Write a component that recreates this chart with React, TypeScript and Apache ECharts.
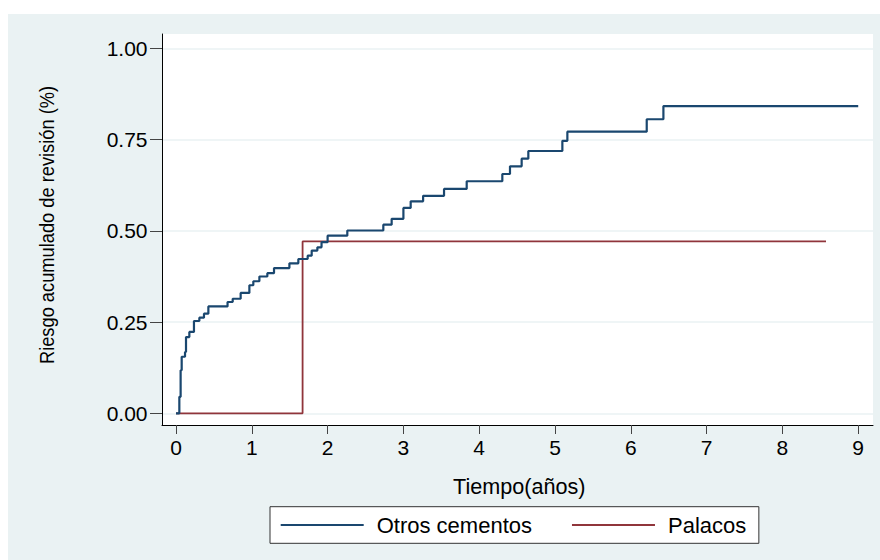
import React, { useEffect, useRef } from "react";
import * as echarts from "echarts";

// Otros cementos: event times (years) and cumulative risk
const otrosTime = [
  0, 0.044, 0.061, 0.075, 0.119, 0.132, 0.176, 0.237, 0.308, 0.369, 0.427,
  0.68, 0.748, 0.853, 0.968, 1.02, 1.1, 1.205, 1.293, 1.496, 1.614, 1.737,
  1.79, 1.865, 1.92, 2.0, 2.26, 2.735, 2.845, 3.0, 3.096, 3.26, 3.536, 3.835,
  4.305, 4.406, 4.56, 4.648, 5.097, 5.163, 6.21, 6.43, 9.0,
];
const otrosRisk = [
  0, 0.045, 0.118, 0.155, 0.168, 0.209, 0.223, 0.253, 0.262, 0.273, 0.293,
  0.305, 0.314, 0.33, 0.351, 0.362, 0.375, 0.384, 0.398, 0.411, 0.423, 0.432,
  0.446, 0.455, 0.469, 0.487, 0.501, 0.517, 0.533, 0.563, 0.581, 0.596, 0.615,
  0.636, 0.656, 0.677, 0.698, 0.719, 0.747, 0.772, 0.806, 0.842, 0.842,
];
// Palacos
const palacosTime = [0, 1.67, 8.575];
const palacosRisk = [0, 0.471, 0.471];

const xTicks = [0, 1, 2, 3, 4, 5, 6, 7, 8, 9];
const yTicks = [0, 0.25, 0.5, 0.75, 1];
const seriesNames = ["Otros cementos", "Palacos"];
const xTitle = "Tiempo(años)";
const yTitle = "Riesgo acumulado de revisión (%)";

const FONT = "'Liberation Sans', Arial, Helvetica, sans-serif";

export default function App() {
  const ref = useRef<HTMLDivElement>(null);
  useEffect(() => {
    if (!ref.current) return;
    const chart = echarts.init(ref.current, undefined, { renderer: "svg" });
    const otros = otrosTime.map((t, i) => [t, otrosRisk[i]]);
    const palacos = palacosTime.map((t, i) => [t, palacosRisk[i]]);
    chart.setOption({
      animation: false,
      backgroundColor: "#EAF2F3",
      textStyle: { fontFamily: FONT },
      grid: {
        left: 154,
        top: 20,
        width: 711,
        height: 391,
        show: true,
        backgroundColor: "#ffffff",
        borderWidth: 0,
        containLabel: false,
      },
      xAxis: {
        type: "value",
        min: -0.1847,
        max: 9.195,
        axisLine: { onZero: false, lineStyle: { color: "#000", width: 1 } },
        axisTick: { customValues: xTicks, length: 9, lineStyle: { color: "#444", width: 1 } },
        axisLabel: {
          customValues: xTicks,
          color: "#000",
          fontSize: 21,
          fontFamily: FONT,
          margin: 12,
        },
        splitLine: { show: false },
      },
      yAxis: {
        type: "value",
        min: -0.0321,
        max: 1.0397,
        axisLine: { show: true, onZero: false, lineStyle: { color: "#000", width: 1 } },
        axisTick: { show: true, customValues: yTicks, length: 12, lineStyle: { color: "#444", width: 1 } },
        axisLabel: {
          customValues: yTicks,
          color: "#000",
          fontSize: 21,
          fontFamily: FONT,
          margin: 14.5,
          formatter: (v: number) => v.toFixed(2),
        },
        splitLine: { show: true, lineStyle: { color: "#EAF2F3", width: 1.6 } },
      },
      legend: {
        left: 262,
        top: 492.7,
        orient: "horizontal",
        backgroundColor: "#ffffff",
        borderColor: "#333",
        borderWidth: 1,
        borderRadius: 0,
        padding: [7.3, 12.6, 7.3, 10.7],
        itemGap: 40,
        itemWidth: 83,
        itemHeight: 2,
        icon: "rect",
        data: seriesNames,
        textStyle: {
          fontSize: 22,
          lineHeight: 22,
          color: "#000",
          fontFamily: FONT,
          padding: [0, 0, 0, 8],
        },
      },
      graphic: [
        {
          type: "text",
          x: 39,
          y: 211,
          rotation: Math.PI / 2,
          scaleX: 0.87,
          style: {
            text: yTitle,
            fontSize: 21,
            fontFamily: FONT,
            fill: "#000",
            align: "center",
            verticalAlign: "middle",
          },
        },
        {
          type: "text",
          x: 511.3,
          y: 472.5,
          style: {
            text: xTitle,
            fontSize: 21.6,
            fontFamily: FONT,
            fill: "#000",
            align: "center",
            verticalAlign: "middle",
          },
        },
      ],
      series: [
        {
          name: seriesNames[0],
          type: "line",
          step: "end",
          data: otros,
          showSymbol: false,
          symbol: "none",
          color: "#1A476F",
          lineStyle: { color: "#1A476F", width: 2.2 },
          z: 3,
        },
        {
          name: seriesNames[1],
          type: "line",
          step: "end",
          data: palacos,
          showSymbol: false,
          symbol: "none",
          color: "#90353B",
          lineStyle: { color: "#90353B", width: 1.8 },
          z: 2,
        },
      ],
    });
    return () => chart.dispose();
  }, []);
  return (
    <div
      ref={ref}
      style={{ position: "absolute", left: 8, top: 14, width: 872, height: 546 }}
    />
  );
}
